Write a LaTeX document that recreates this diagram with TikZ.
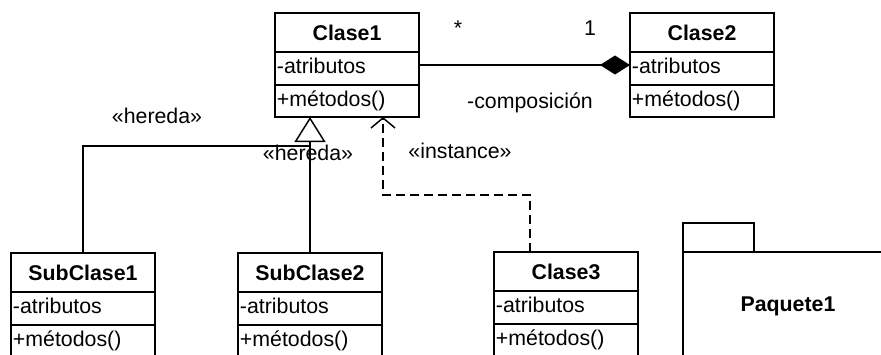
\documentclass[tikz,border=0pt]{standalone}
\usepackage{fontspec}
\setmainfont{Liberation Sans}
\usetikzlibrary{arrows.meta}

% A UML class box: name, left x, top y, title (units are pixels, y down)
\newcommand\umlclass[4]{%
  \node[classbox] (#1) at (#2,#3) {};
  \draw[umlline] (#2,#3+39) -- (#2+144,#3+39);
  \draw[umlline] (#2,#3+72) -- (#2+144,#3+72);
  \node[classtitle] (#1-title) at (#2+72,#3+27) {#4};
  \node[classtext] (#1-attr) at (#2+1,#3+60) {-atributos};
  \node[classtext] (#1-ops) at (#2+1,#3+93) {+métodos()};
}

\begin{document}
\begin{tikzpicture}[x=0.75pt, y=-0.75pt,
  font=\fontsize{16}{19}\selectfont,
  umlline/.style={line width=1.1pt},
  classbox/.style={draw, umlline, anchor=north west, inner sep=0pt, outer sep=0pt,
    minimum width=108pt, minimum height=78pt},
  classtitle/.style={anchor=base, inner sep=0pt, font=\fontsize{16}{19}\selectfont\bfseries},
  classtext/.style={anchor=base west, inner xsep=0.5pt, inner ysep=0pt},
  lbl/.style={anchor=base, inner sep=0pt},
  inherit/.style={umlline, -{Triangle[open, fill=white, length=18.75pt, width=23.25pt]}},
  plain/.style={umlline},
  depend/.style={umlline, dash pattern=on 7pt off 3.5pt,
    -{Straight Barb[length=7.5pt, width=18pt, line width=1.1pt]}},
  compose/.style={umlline, -{Diamond[length=22.5pt, width=14.25pt, fill=black]}}
]
\useasboundingbox (0,0) rectangle (881,354);
\clip (0,0) rectangle (881,354);

% classes
\umlclass{c1}{275}{13}{Clase1}
\umlclass{c2}{630}{13}{Clase2}
\umlclass{s1}{11}{253}{SubClase1}
\umlclass{s2}{238}{253}{SubClase2}
\umlclass{c3}{494}{252}{Clase3}

% package
\node[draw, umlline, anchor=north west, inner sep=0pt, outer sep=0pt,
  minimum width=53.25pt, minimum height=21.75pt] (pkgtab) at (683,223) {};
\node[draw, umlline, anchor=north west, inner sep=0pt, outer sep=0pt,
  minimum width=180pt, minimum height=120pt] (pkg) at (683,252) {};
\node[lbl, font=\fontsize{16}{19}\selectfont\bfseries] (pkgname) at (788,311) {Paquete1};

% composition
\draw[compose] (c1.east) -- (c2.west);
\node[lbl] (mstar) at (458,35) {*};
\node[lbl] (mone) at (590,35) {1};
\node[lbl] (comp) at (530,108) {-composición};

% inheritance
\coordinate (join) at (309,146);
\draw[inherit] (s2.north) -- (s2.north |- c1.south);
\draw[plain] (s1.north) |- (join);
\node[lbl] (h1) at (157,123) {«hereda»};
\node[lbl] (h2) at (308,160) {«hereda»};

% instance dependency
\coordinate (d1) at (530,195);
\coordinate (d2) at (383,195);
\draw[depend] (c3.north -| d1) -- (d1) -- (d2) -- (d2 |- c1.south);
\node[lbl] (inst) at (460,158) {«instance»};
\end{tikzpicture}
\end{document}
